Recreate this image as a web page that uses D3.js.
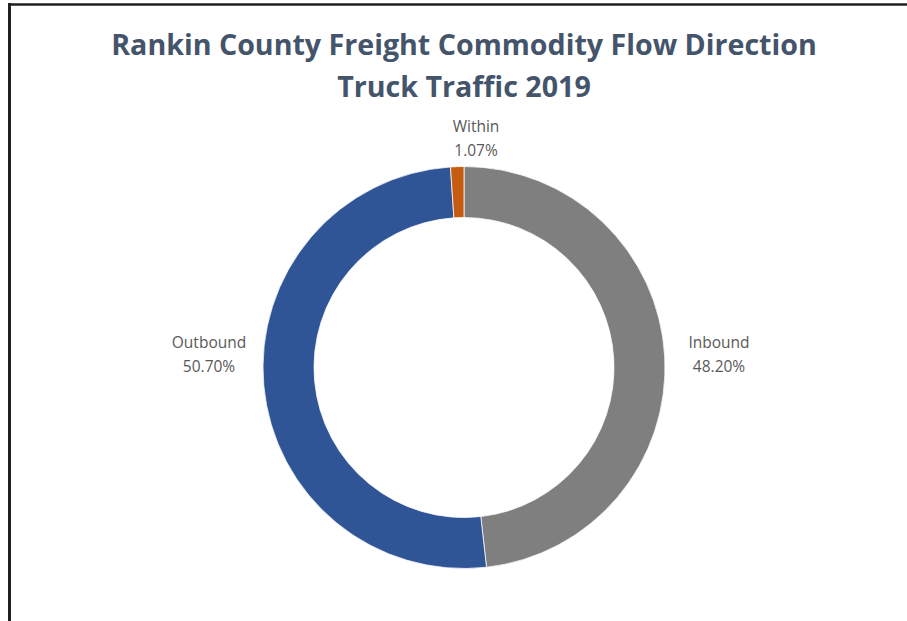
<!DOCTYPE html>
<html>
<head>
<meta charset="utf-8">
<script src="https://cdn.jsdelivr.net/npm/d3@7"></script>
<style>
  html, body { margin: 0; padding: 0; background: #ffffff; }
  svg { display: block; }
</style>
</head>
<body>
<svg id="chart" width="907" height="621"></svg>
<script>
const titleLines = ["Rankin County Freight Commodity Flow Direction", "Truck Traffic 2019"];
const categories = ["Inbound", "Outbound", "Within"];
const values = [48.20, 50.70, 1.07];
const valueLabels = ["48.20%", "50.70%", "1.07%"];
const colors = ["#7F7F7F", "#2F5597", "#C55A11"];

const W = 907, H = 621;
const svg = d3.select("#chart");
svg.append("rect").attr("width", W).attr("height", H).attr("fill", "#ffffff");

// frame lines
svg.append("line").attr("x1", 9.5).attr("x2", 9.5).attr("y1", 3).attr("y2", H)
  .attr("stroke", "#231f20").attr("stroke-width", 3);
svg.append("line").attr("x1", 8).attr("x2", W).attr("y1", 4.5).attr("y2", 4.5)
  .attr("stroke", "#231f20").attr("stroke-width", 2.5);

// title
const titleFont = "'Open Sans', 'Noto Sans', sans-serif";
const targetW = 706;
const baselines = [55, 97];
const titleSel = svg.selectAll("text.title").data(titleLines).enter().append("text")
  .attr("class", "title")
  .attr("x", 464).attr("y", (d, i) => baselines[i])
  .attr("text-anchor", "middle")
  .attr("font-family", titleFont)
  .attr("font-weight", 700)
  .attr("font-size", 28)
  .attr("fill", "#44546A")
  .text(d => d);
const w0 = titleSel.nodes()[0].getComputedTextLength();
titleSel.attr("font-size", Math.min(28 * targetW / w0, 30));

const cx = 464, cy = 367.5, rOuter = 201, rInner = 150;
const g = svg.append("g").attr("transform", `translate(${cx},${cy})`);

const pie = d3.pie().sort(null).value(d => d)(values);
const arc = d3.arc().innerRadius(rInner).outerRadius(rOuter);

g.selectAll("path.slice").data(pie).enter().append("path")
  .attr("class", "slice")
  .attr("d", arc)
  .attr("fill", (d, i) => colors[i])
  .attr("stroke", "#ffffff").attr("stroke-width", 0.75);

// labels (outside end)
const sideR = 255;
pie.forEach((d, i) => {
  const a = (d.startAngle + d.endAngle) / 2;
  const s = Math.sin(a);
  let x, y1, y2;
  if (Math.abs(s) < 0.3) {
    // label above the ring
    x = 12;
    y1 = -rOuter - 35; y2 = -rOuter - 11;
  } else {
    x = (s > 0 ? 1 : -1) * sideR;
    y1 = -20; y2 = 4;
  }
  const t = g.append("text")
    .attr("text-anchor", "middle")
    .attr("font-family", "'Open Sans', 'Noto Sans', sans-serif")
    .attr("font-size", 15.5)
    .attr("fill", "#595959");
  t.append("tspan").attr("x", x).attr("y", y1).text(categories[i]);
  t.append("tspan").attr("x", x).attr("y", y2).text(valueLabels[i]);
});
</script>
</body>
</html>
